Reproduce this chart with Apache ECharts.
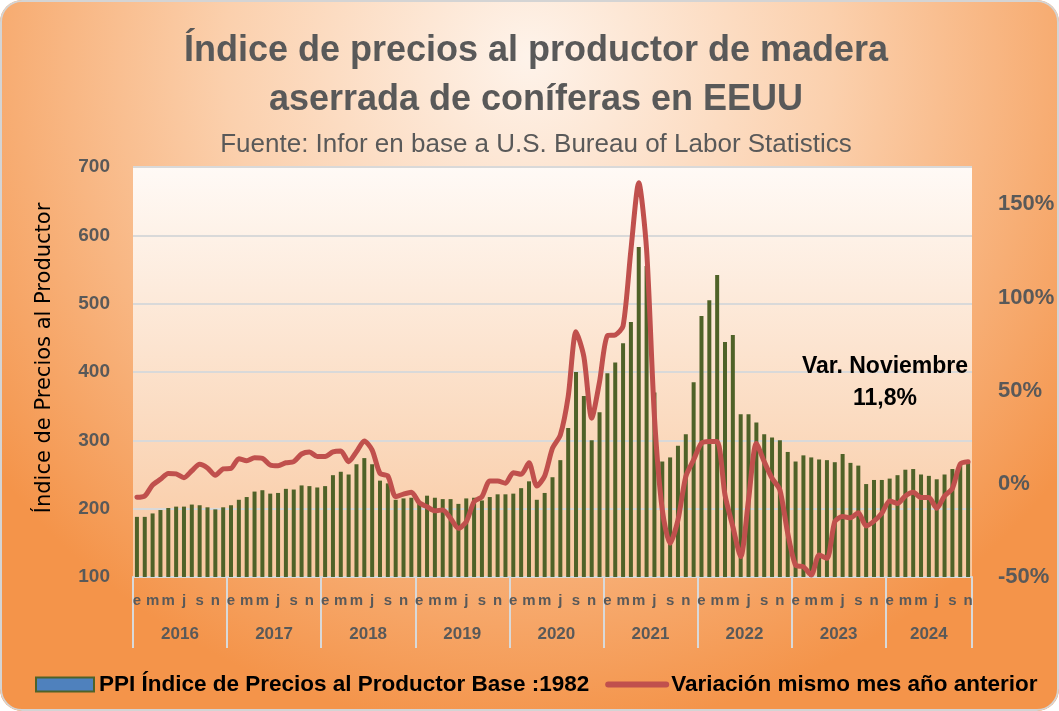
<!DOCTYPE html>
<html>
<head>
<meta charset="utf-8">
<script src="https://cdn.jsdelivr.net/npm/echarts@6/dist/echarts.min.js"></script>
<style>
  html, body { margin: 0; padding: 0; background: #fff; }
  #wrap { position: absolute; left: 0; top: 0; width: 1059px; height: 711px; border-radius: 22px; overflow: hidden; }
  #wrap::after { content: ""; position: absolute; inset: 0; border: 2px solid #d4d4d4; border-radius: 22px; pointer-events: none; }
  #chart { width: 1059px; height: 711px; }
</style>
</head>
<body>
<div id="wrap"><div id="chart"></div></div>
<script>
(function () {
    // años y letras de los meses
    var years = ['2016', '2017', '2018', '2019', '2020', '2021', '2022', '2023', '2024'];
    var monthLetters = ['e', 'f', 'm', 'a', 'm', 'j', 'j', 'a', 's', 'o', 'n', 'd'];

    // PPI madera aserrada de coníferas (base 1982), ene 2016 - nov 2024
    var ppi = [
        188, 188, 193, 198, 201, 203, 203, 206, 205, 202, 199, 202,
        205, 213, 217, 225, 227, 222, 223, 229, 228, 234, 233, 231,
        233, 249, 254, 250, 265, 274, 265, 241, 237, 213, 215, 216,
        207, 219, 216, 214, 214, 207, 215, 216, 212, 217, 221, 221,
        222, 230, 240, 213, 223, 246, 271, 318, 400, 365, 300, 341,
        398, 414, 442, 473, 583, 555, 370, 269, 275, 292, 309, 385,
        482, 505, 542, 444, 454, 338, 338, 326, 309, 304, 300, 283,
        269, 278, 275, 272, 271, 268, 280, 267, 263, 236, 242, 242,
        244, 249, 257, 258, 250, 248, 243, 250, 258, 266, 267
    ];

    // variación mismo mes año anterior (%)
    var variacion = [
        -7.2, -6.5, -0.6, 2.4, 5.6, 5.3, 3.3, 7.0, 10.5, 8.5, 4.6, 8.0,
        8.3, 13.5, 12.4, 14.0, 13.7, 10.1, 9.7, 11.3, 11.9, 16.0, 17.1, 14.6,
        14.6, 17.1, 17.6, 11.9, 17.2, 23.0, 18.1, 5.6, 4.2, -6.9, -5.5, -4.5,
        -10.1, -12.3, -14.5, -14.0, -18.5, -23.9, -20.3, -9.6, -6.9, 1.5, 1.5, 0.3,
        6.0, 5.1, 11.3, -1.2, 4.2, 19.1, 26.2, 46.8, 81.6, 68.2, 35.2, 54.8,
        79.5, 79.9, 84.7, 125.5, 161.6, 125.5, 36.0, -14.0, -31.9, -19.4, 3.9, 12.9,
        21.8, 22.7, 22.7, -6.0, -23.0, -39.1, -8.6, 21.7, 11.9, 3.0, -3.3, -26.5,
        -43.6, -44.5, -48.9, -38.2, -40.0, -20.3, -17.6, -18.2, -15.5, -22.6, -20.0, -15.8,
        -9.2, -10.5, -6.5, -4.5, -7.4, -7.4, -13.1, -6.5, -2.4, 10.6, 11.8
    ];

    var leftTicks = { min: 100, max: 700, interval: 100 };
    var rightTicks = { min: -50, max: 170, interval: 50 };

    var monthCats = ppi.map(function (v, i) { return monthLetters[i % 12]; });
    var yearCats = ppi.map(function (v, i) { return years[Math.floor(i / 12)]; });

    // índice donde va la etiqueta del año (centro del año)
    function yearLabelIndex(i) {
        var y = Math.floor(i / 12);
        var n = Math.min(12, ppi.length - y * 12);
        return i === y * 12 + Math.floor(n / 2);
    }

    var gray = '#595959';
    var grid = '#d9d9d9';

    var myChart = echarts.init(document.getElementById('chart'));

    var option = {
        backgroundColor: {
            type: 'radial', x: 0.5, y: 0.08, r: 0.95,
            colorStops: [
                { offset: 0, color: '#fef3ea' },
                { offset: 0.45, color: '#fbd0ad' },
                { offset: 1, color: '#f4944a' }
            ]
        },
        textStyle: { fontFamily: 'Liberation Sans' },
        title: {
            text: 'Índice de precios al productor de madera\naserrada de coníferas en EEUU',
            subtext: 'Fuente: Infor en base a U.S. Bureau of Labor Statistics',
            left: 536,
            textAlign: 'center',
            top: 27,
            itemGap: 5,
            padding: 0,
            textStyle: { fontSize: 36, fontWeight: 'bold', color: gray, lineHeight: 49 },
            subtextStyle: { fontSize: 26, color: gray, lineHeight: 29 }
        },
        legend: {
            left: 35,
            top: 673,
            padding: 0,
            itemWidth: 58,
            itemHeight: 14,
            itemGap: 16,
            textStyle: { fontSize: 22.5, fontWeight: 'bold', color: '#000' },
            data: [
                { name: 'PPI Índice de Precios al Productor Base :1982', icon: 'rect',
                  itemStyle: { color: '#4f81bd', borderColor: '#4f6228', borderWidth: 2 } },
                { name: 'Variación mismo mes año anterior',
                  itemStyle: { color: 'rgba(0,0,0,0)', borderWidth: 0, opacity: 0 },
                  lineStyle: { color: '#c0504d', width: 6, cap: 'round' } }
            ]
        },
        grid: {
            left: 133, right: 87, top: 167, bottom: 134,
            show: true,
            borderWidth: 0,
            backgroundColor: {
                type: 'linear', x: 0, y: 0, x2: 0, y2: 1,
                colorStops: [
                    { offset: 0, color: '#fffaf6' },
                    { offset: 0.6, color: '#fbdcc2' },
                    { offset: 1, color: '#f9c8a0' }
                ]
            }
        },
        xAxis: [
            {
                type: 'category',
                position: 'bottom',
                data: monthCats,
                axisLine: { show: true, onZero: false, lineStyle: { color: grid, width: 2 } },
                axisTick: {
                    show: true, inside: false, length: 71,
                    interval: function (i) { return i % 12 === 0; },
                    lineStyle: { color: grid, width: 2 }
                },
                axisLabel: {
                    interval: function (i) { return i % 2 === 0; },
                    margin: 16,
                    fontSize: 15,
                    fontWeight: 'bold',
                    color: gray
                }
            },
            {
                type: 'category',
                data: yearCats,
                position: 'bottom',
                axisLine: { show: false, onZero: false },
                axisTick: { show: false },
                axisLabel: {
                    interval: function (i) { return yearLabelIndex(i); },
                    margin: 49,
                    formatter: function (v, i) {
                        return (i % 12 === 6) ? '{a|' + v + '}' : '{b|' + v + '}';
                    },
                    rich: {
                        a: { fontSize: 17, fontWeight: 'bold', color: gray, padding: [0, 8, 0, 0] },
                        b: { fontSize: 17, fontWeight: 'bold', color: gray }
                    }
                }
            }
        ],
        yAxis: [
            {
                type: 'value',
                min: leftTicks.min, max: leftTicks.max, interval: leftTicks.interval,
                name: 'Índice de Precios al Productor',
                nameLocation: 'middle',
                nameRotate: 90,
                nameGap: 78,
                nameTextStyle: { fontSize: 21, color: '#000', fontFamily: 'DejaVu Sans', padding: [0, 0, 0, 28] },
                axisLine: { show: false },
                axisTick: { show: false },
                splitLine: { lineStyle: { color: grid, width: 2 } },
                axisLabel: { fontSize: 19, fontWeight: 'bold', color: gray, margin: 23 }
            },
            {
                type: 'value',
                min: rightTicks.min, max: rightTicks.max, interval: rightTicks.interval,
                axisLine: { show: false },
                axisTick: { show: false },
                splitLine: { show: false },
                axisLabel: {
                    fontSize: 22, fontWeight: 'bold', color: gray, margin: 26,
                    formatter: function (v) { return v > 150 ? '' : v + '%'; }
                }
            }
        ],
        graphic: [
            {
                type: 'text', x: 885, y: 351, z: 10,
                style: {
                    text: 'Var. Noviembre\n11,8%',
                    align: 'center',
                    font: 'bold 23px "Liberation Sans"',
                    lineHeight: 32,
                    fill: '#000'
                }
            }
        ],
        series: [
            {
                name: 'PPI Índice de Precios al Productor Base :1982',
                type: 'bar',
                data: ppi,
                barWidth: 4,
                itemStyle: { color: '#4f6228' },
                animation: false
            },
            {
                name: 'Variación mismo mes año anterior',
                type: 'line',
                yAxisIndex: 1,
                data: variacion,
                smooth: 0.25,
                symbol: 'none',
                lineStyle: { color: '#c0504d', width: 5, cap: 'round', join: 'round' },
                itemStyle: { color: '#c0504d' },
                z: 5,
                animation: false
            }
        ]
    };

    myChart.setOption(option);
    window.addEventListener('resize', function () {
        myChart.resize();
    });
})();
</script>
</body>
</html>
